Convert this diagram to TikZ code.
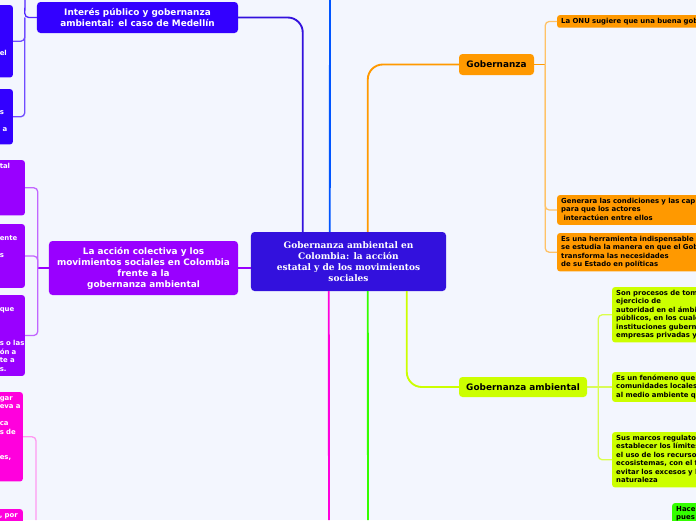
\documentclass[tikz,border=0pt]{standalone}
\usepackage{fontspec}
\setmainfont{DejaVu Serif}
\setsansfont{DejaVu Sans}
\usepackage{tikz}
\usepackage{xcolor}

\definecolor{bgcol}{HTML}{F3F6FE}
\definecolor{hubblue}{HTML}{3311DD}
\definecolor{topblue}{HTML}{3300FF}
\definecolor{lineblue}{HTML}{0055FF}
\definecolor{accpurple}{HTML}{9900FF}
\definecolor{movmag}{HTML}{FF00DD}
\definecolor{gobor}{HTML}{FF9900}
\definecolor{ambyg}{HTML}{CCFF00}
\definecolor{verde}{HTML}{33FF00}

\begin{document}
\begin{tikzpicture}[x=0.03cm, y=-0.03cm,
    hub/.style={fill=hubblue, text=white, rounded corners=3pt, align=center, inner sep=0pt,
        font=\bfseries\fontsize{7.7}{9.4}\selectfont},
    topic/.style={rounded corners=3pt, align=center, inner sep=0pt,
        font=\sffamily\bfseries\fontsize{7.6}{9.4}\selectfont},
    leaf/.style={rounded corners=2pt, align=left, inner xsep=0.12cm, inner ysep=0.06cm,
        font=\sffamily\bfseries\fontsize{5.9}{7.26}\selectfont,
        execute at begin node=\strut, execute at end node=\strut},
    branch/.style={line width=1.6pt, rounded corners=0.45cm},
    twig/.style={line width=1.1pt, rounded corners=0.12cm}]

    \useasboundingbox[fill=bgcol] (0,0) rectangle (696,520);

    % Central node
    \node[hub, minimum width=5.85cm, minimum height=1.77cm] (central) at (348.5,261.5)
        {Gobernanza ambiental en\\Colombia: la acción\\estatal y de los movimientos\\sociales};

    % Main topics
    \node[topic, fill=topblue, text=white, minimum width=6.03cm, minimum height=0.93cm] (interes) at (137.5,17.5)
        {Interés público y gobernanza\\ambiental: el caso de Medellín};
    \node[topic, fill=accpurple, text=white, minimum width=5.67cm, minimum height=1.62cm] (accion) at (143.5,268)
        {La acción colectiva y los\\movimientos sociales en Colombia\\frente a la\\gobernanza ambiental};
    \node[topic, fill=gobor, minimum width=2.25cm, minimum height=0.63cm] (gob) at (496.5,64.5) {Gobernanza};
    \node[topic, fill=ambyg, minimum width=3.84cm, minimum height=0.6cm] (gobamb) at (523,387) {Gobernanza ambiental};

    % Leaves on the left (cut by the page edge)
    \node[leaf, fill=topblue, text=white, anchor=north east, text width=0.27cm] (medA) at (13,5)
        {~\\~\\~\\~\\~\\el\\~\\~};
    \node[leaf, fill=topblue, text=white, anchor=north east, text width=0.27cm] (medB) at (13,89)
        {~\\~\\s\\~\\\hspace*{2.5pt}a\\~};
    \node[leaf, fill=accpurple, text=white, anchor=north east, text width=0.63cm] (colA) at (25,160)
        {tal\\~\\~\\~\\~\\~};
    \node[leaf, fill=accpurple, text=white, anchor=north east, text width=0.63cm] (colB) at (25,224)
        {~\\ente\\~\\s\\~\\~\\~};
    \node[leaf, fill=accpurple, text=white, anchor=north east, text width=0.63cm] (colC) at (25,295)
        {~\\que\\~\\~\\~\\s~o~las\\ón~a\\te~a\\s.};
    \node[leaf, fill=movmag, text=white, anchor=north east, text width=0.57cm] (movA) at (23,392)
        {gar\\eva~a\\~\\ca\\s~de\\~\\~\\es,\\~\\~};
    \node[leaf, fill=movmag, text=white, anchor=north east, text width=0.57cm] (movB) at (23,509)
        {,~por\\~\\~};

    % Leaves on the right (cut by the page edge)
    \node[leaf, fill=gobor, anchor=north west, text width=6cm] (gobA) at (557,15)
        {La ONU sugiere que una buena gob};
    \node[leaf, fill=gobor, anchor=north west, text width=6cm] (gobB) at (557,195)
        {Generara las condiciones y las cap\\para que los actores\\\hspace*{2pt}interactúen entre ellos};
    \node[leaf, fill=gobor, anchor=north west, text width=6cm] (gobC) at (557,233)
        {Es una herramienta indispensable\\se estudia la manera en que el Gob\\transforma las necesidades\\de su Estado en políticas};
    \node[leaf, fill=ambyg, anchor=north west, text width=6cm] (ambA) at (612,287)
        {Son procesos de tom\\ejercicio de\\autoridad en el ámbi\\públicos, en los cuale\\instituciones guberna\\empresas privadas y};
    \node[leaf, fill=ambyg, anchor=north west, text width=6cm] (ambB) at (612,372)
        {Es un fenómeno que\\comunidades locales\\al medio ambiente qu};
    \node[leaf, fill=ambyg, anchor=north west, text width=6cm] (ambC) at (612,432)
        {Sus marcos regulato\\establecer los límites\\el uso de los recurso\\ecosistemas, con el f\\evitar los excesos y l\\naturaleza};
    \node[leaf, fill=verde, anchor=north west, text width=6cm] (verdeA) at (672,503) {Hace\\pues};

    % Free ends at the page edge
    \coordinate (toptip) at (330,0);
    \coordinate (magtip) at (329,520);
    \coordinate (greentip) at (368,520);
    \coordinate (medtop) at (25,0);
    \coordinate (movtip) at (36,520);

    % Branches from the central node
    \draw[branch, hubblue] ([xshift=1.56cm]central.north west) |- (interes.east);
    \draw[branch, lineblue] ([xshift=2.37cm]central.north west) -- (toptip);
    \draw[branch, gobor] ([xshift=3.51cm]central.north west) |- (gob.west);
    \draw[branch, accpurple] (central.west |- accion.east) -- (accion.east);
    \draw[branch, movmag] ([xshift=2.34cm]central.south west) -- (magtip);
    \draw[branch, verde] ([xshift=3.51cm]central.south west) -- (greentip);
    \draw[branch, ambyg] ([xshift=4.68cm]central.south west) |- (gobamb.west);

    % Forks to the leaves
    \draw[twig, topblue!85] (interes.west) -- ++(-12,0) coordinate (medfork) -- (medtop);
    \foreach \leaf in {medA, medB}
        \draw[twig, topblue!70] (medfork) |- (\leaf.east);
    \draw[twig, accpurple] (accion.west) -- ++(-11,0) coordinate (colfork);
    \foreach \leaf in {colA, colB, colC}
        \draw[twig, accpurple!60] (colfork) |- (\leaf.east);
    \draw[twig, movmag!40] (movA.east) -| (movtip);
    \draw[twig, gobor] (gob.east) -- ++(11,0) coordinate (gobfork);
    \foreach \leaf in {gobA, gobB, gobC}
        \draw[twig, gobor!60] (gobfork) |- (\leaf.west);
    \draw[twig, ambyg] (gobamb.east) -- ++(11,0) coordinate (ambfork) -- (ambB.west);
    \foreach \leaf in {ambA, ambC}
        \draw[twig, ambyg!70] (ambfork) |- (\leaf.west);
\end{tikzpicture}
\end{document}
